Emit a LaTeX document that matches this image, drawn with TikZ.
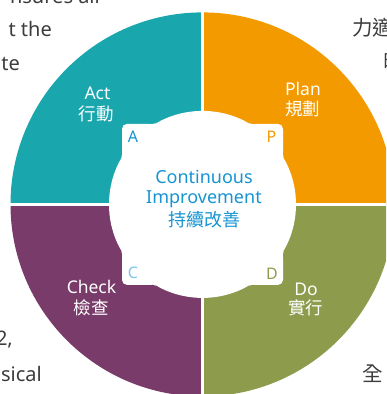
\documentclass[tikz,border=0pt]{standalone}
\usepackage{fontspec}
\setmainfont{Noto Sans}
\newfontfamily\cjk{Noto Sans CJK TC}
\definecolor{tealc}{HTML}{19A7AD}
\definecolor{orangec}{HTML}{F39A00}
\definecolor{purplec}{HTML}{793B69}
\definecolor{greenc}{HTML}{8C9C4C}
\definecolor{bluec}{HTML}{1794D2}
\definecolor{lightbluec}{HTML}{7DC5EA}
\definecolor{grayc}{HTML}{3C3C3C}
\newcommand\myfilletH[3]{%
  \begin{scope}[shift={(c)},xscale=#1,yscale=#2]
    \fill[white] (-50.22,-90.5) -- (-50.22,-80.5) -- (-47.56,-80.5) -- (-45.37,-81.76) -- cycle;
    \fill[#3] (-50.22,-90.5) circle[radius=10pt];
  \end{scope}}
\newcommand\myfilletV[3]{%
  \begin{scope}[shift={(c)},xscale=#1,yscale=#2]
    \fill[white] (-90.5,-50.22) -- (-80.5,-50.22) -- (-80.5,-47.56) -- (-81.76,-45.37) -- cycle;
    \fill[#3] (-90.5,-50.22) circle[radius=10pt];
  \end{scope}}
\begin{document}
\begin{tikzpicture}[x=1pt,y=-1pt,
  lab/.style={text=white,font=\fontsize{17.5}{20}\selectfont,anchor=base,inner sep=0pt},
  letter/.style={font=\fontsize{16}{18}\selectfont,anchor=center,inner sep=0pt},
  center/.style={text=bluec,font=\fontsize{18}{20}\selectfont,anchor=base,inner sep=0pt},
  page/.style={text=grayc,font=\fontsize{20}{24}\selectfont,inner sep=0pt}]
\useasboundingbox (0,0) rectangle (386,394);
\clip (0,0) rectangle (386,394);
\coordinate (c) at (202.5,204.4);
% quadrants
\begin{scope}\clip (c) rectangle (0,0); \fill[tealc] (c) circle[radius=192pt];\end{scope}
\begin{scope}\clip (c) rectangle (400,0); \fill[orangec] (c) circle[radius=192pt];\end{scope}
\begin{scope}\clip (c) rectangle (0,400); \fill[purplec] (c) circle[radius=192pt];\end{scope}
\begin{scope}\clip (c) rectangle (400,400); \fill[greenc] (c) circle[radius=192pt];\end{scope}
% dividers
\fill[white] (201.2,-1) rectangle (203.8,395);
\fill[white] (-1,203.0) rectangle (387,205.6);
% inner white shape
\fill[white] (c) circle[radius=93.5pt];
\fill[white,rounded corners=5pt] (122,123.9) rectangle (283,284.9);
% smooth joins between square and circle
\myfilletH{1}{1}{tealc}
\myfilletH{-1}{1}{orangec}
\myfilletH{1}{-1}{purplec}
\myfilletH{-1}{-1}{greenc}
\myfilletV{1}{1}{tealc}
\myfilletV{-1}{1}{orangec}
\myfilletV{1}{-1}{purplec}
\myfilletV{-1}{-1}{greenc}
% quadrant labels
\node[lab] (act) at (97.5,99.5) {Act};
\node[lab] (actz) at (96,120.5) {\cjk 行動};
\node[lab] (plan) at (303,95) {Plan};
\node[lab] (planz) at (302.5,115.5) {\cjk 規劃};
\node[lab] (check) at (91.5,293) {Check};
\node[lab] (checkz) at (91,314.5) {\cjk 檢查};
\node[lab] (do) at (306,295) {Do};
\node[lab] (doz) at (305.5,314.5) {\cjk 實行};
% letters
\node[letter,text=bluec] (A) at (133,136.5) {A};
\node[letter,text=orangec] (P) at (271.5,136.5) {P};
\node[letter,text=lightbluec] (C) at (133,273) {C};
\node[letter,text=greenc] (D) at (272,273.5) {D};
% center text
\node[center] (ci1) at (204,183) {Continuous};
\node[center] (ci2) at (204,203) {Improvement};
\node[center] (ci3) at (204,226.5) {\cjk 持續改善};
% surrounding page text fragments
\node[page,anchor=base east] (t1) at (100,3) {nsures all};
\node[page,anchor=base east] (t2) at (52,36) {t the};
\node[page,anchor=base east] (t3) at (20,70) {te};
\node[page,anchor=base east] (t4) at (13,345) {2,};
\node[page,anchor=base east] (t5) at (42,381) {sical};
\node[page,anchor=base west,font=\fontsize{20.5}{24}\cjk] (t6) at (352,35) {力適};
\node[page,anchor=base west,font=\fontsize{20.5}{24}\cjk] (t7) at (383,67) {的};
\node[page,anchor=base west,font=\fontsize{20.5}{24}\cjk] (t8) at (362,381) {全};
\end{tikzpicture}
\end{document}
